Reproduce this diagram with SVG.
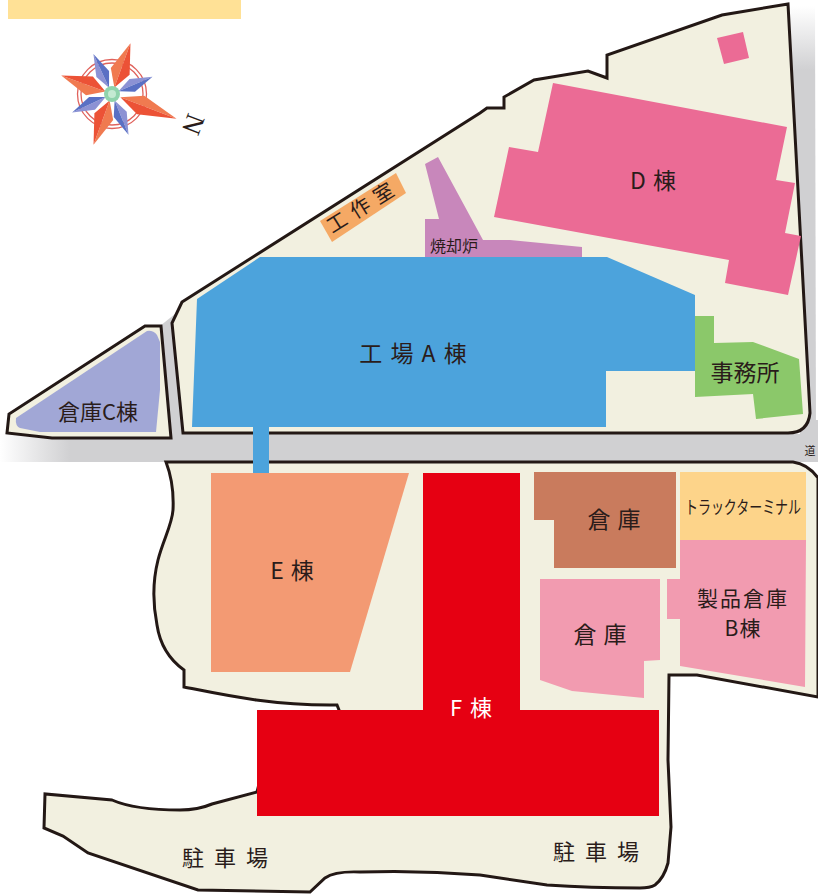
<svg xmlns="http://www.w3.org/2000/svg" xmlns:xlink="http://www.w3.org/1999/xlink" width="818" height="894" viewBox="0 0 818 894">
<style>
text{font-family:"Noto Sans CJK JP","Noto Sans",sans-serif;fill:#2a1c1a;text-anchor:middle}
.site{fill:#f2f0e0;stroke:#231815;stroke-width:3;stroke-linejoin:miter}
.b{stroke:none}
</style>
<defs>
<linearGradient id="roadL" x1="0" x2="1" y1="0" y2="0"><stop offset="0" stop-color="#d0d0d2" stop-opacity="0"/><stop offset="1" stop-color="#d0d0d2"/></linearGradient>
<linearGradient id="roadR" x1="0" x2="0" y1="0" y2="1"><stop offset="0" stop-color="#d0d0d2" stop-opacity="0"/><stop offset="0.15" stop-color="#d0d0d2"/><stop offset="1" stop-color="#d0d0d2"/></linearGradient>
<g id="ray"><polygon points="7,0 24,-10 54,0" fill="#f07a50"/><polygon points="7,0 24,10 54,0" fill="#ec5236"/></g>
<g id="bray"><polygon points="7,0 22,-7 44,0" fill="#8c92d4"/><polygon points="7,0 22,7 44,0" fill="#5a70c4"/></g>
</defs>
<rect width="818" height="894" fill="#fff"/>
<rect x="8" y="0" width="233" height="19" fill="#ffe196"/>

<g id="road">
<rect x="0" y="434" width="70" height="28" fill="url(#roadL)"/>
<rect x="70" y="434" width="748" height="28" fill="#d0d0d2"/>
<polygon points="160,326 180,310 192,434 165,438" fill="#d0d0d2"/>
<polygon points="790,6 815,6 816,434 800,434" fill="url(#roadR)"/>
<rect x="806" y="420" width="12" height="14" fill="#d0d0d2"/>
<text x="810" y="455" font-size="11">道</text>
</g>

<g id="site-north">
<path class="site" d="M788,4 L722,15 L607,55 L607,78 L588,71 L534,80 L504,97 L504,108 L487,108 L480,113 L182,302 L172,323 L183,433 L788,433 Q808,433 810,413 Z"/>
</g>
<g id="site-south">
<path class="site" stroke-width="2.500" d="M166,462 L793,462 Q808,464 818,478 L818,697 L697,675 L669,675 L668,760 L671,827 L668,863 Q664,878 655,885 Q650,888 640,888 Q590,888 547,885 L480,875 Q420,870 360,872 Q335,871 325,878 L310,892 L198,890 L88,853 L63,836 L44,828 L45,794 L112,800 C128,807 150,810 180,810 C195,810 205,807 212,804 L257,792 L265,760 L265,720 L339,720 L339,710 L337,705 C270,706 215,693 184,687 L184,670 C170,660 160,645 157,625 C152,600 153,580 158,560 C163,540 172,525 173,510 C174,490 171,475 166,462 Z"/>
</g>

<g id="warehouse-c">
<polygon class="site" points="145,326 161,326 171,438 52,438 7,433 9,414"/>
<path class="b" fill="#a1a7d6" d="M147,331 Q153,330 157,335 L160,342 L160,390 L156,432 L40,432 L20,428 Q15,426 16,418 Z"/>
<text x="98" y="420" font-size="22">倉庫C棟</text>
</g>

<g id="compass">
<circle cx="112" cy="94" r="34.500" fill="none" stroke="#e0625c" stroke-width="1.300"/>
<circle cx="112" cy="94" r="31" fill="none" stroke="#e0625c" stroke-width="1.300"/>
<use xlink:href="#bray" href="#bray" transform="translate(112,94) rotate(-23)"/>
<use xlink:href="#bray" href="#bray" transform="translate(112,94) rotate(68)"/>
<use xlink:href="#bray" href="#bray" transform="translate(112,94) rotate(155)"/>
<use xlink:href="#bray" href="#bray" transform="translate(112,94) rotate(245)"/>
<use xlink:href="#ray" href="#ray" transform="translate(112,94) rotate(21) scale(1.28,1)"/>
<use xlink:href="#ray" href="#ray" transform="translate(112,94) rotate(110)"/>
<use xlink:href="#ray" href="#ray" transform="translate(112,94) rotate(200)"/>
<use xlink:href="#ray" href="#ray" transform="translate(112,94) rotate(-70)"/>
<circle cx="112" cy="94" r="8" fill="#8fd3ac"/>
<circle cx="112" cy="94" r="4" fill="#c4ead2"/>
<text transform="translate(185,121) rotate(111)" font-size="27" style="font-family:'Liberation Serif',serif">N</text>
</g>

<g id="workshop">
<polygon class="b" fill="#f5a965" points="320,221 396,173 406,193 332,242"/>
<text transform="translate(364,214) rotate(-32)" font-size="20" word-spacing="3">工 作 室</text>
</g>
<g id="incinerator">
<polygon class="b" fill="#c887bb" points="425,164 438,157 483,240 510,240 582,247 582,257 425,257 425,219 439,219"/>
<text x="454" y="252" font-size="16">焼却炉</text>
</g>
<g id="building-d">
<polygon class="b" fill="#eb6b95" points="553,83 787,127 776,180 795,183 785,233 801,236 788,295 725,283 729,260 494,217 509,147 538,152"/>
<polygon class="b" fill="#eb6b95" points="717,38 743,32 749,58 724,64"/>
<text x="653" y="189" font-size="23" word-spacing="2">D 棟</text>
</g>
<g id="building-a">
<polygon class="b" fill="#4ca3dc" points="260,257 607,257 695,295 695,371 606,371 606,427 192,427 197,299"/>
<text x="413" y="362" font-size="23" word-spacing="3">工 場 A 棟</text>
</g>
<g id="office">
<polygon class="b" fill="#8bc86a" points="695,316 714,316 714,343 753,342 799,359 803,414 756,419 753,394 695,397"/>
<text x="745" y="381" font-size="23">事務所</text>
</g>
<g id="connectors">
<rect x="253" y="427" width="16" height="46" fill="#4ca3dc"/>
</g>
<g id="building-e">
<polygon class="b" fill="#f39a73" points="211,473 409,473 350,672 211,672"/>
<text x="292" y="579" font-size="23" word-spacing="2">E 棟</text>
</g>
<g id="building-f">
<polygon class="b" fill="#e60012" points="423,473 520,473 520,710 659,710 659,816 257,816 257,710 423,710"/>
<text x="471" y="716" font-size="22" word-spacing="3" style="fill:#fff">F 棟</text>
</g>
<g id="warehouse-brown">
<polygon class="b" fill="#c97b5d" points="534,472 676,472 676,568 554,568 554,520 534,520"/>
<text x="614" y="528" font-size="23" word-spacing="2">倉 庫</text>
</g>
<g id="truck-terminal">
<rect x="680" y="472" width="126" height="68" fill="#fdd48a"/>
<text transform="translate(743,514) scale(.72,1)" font-size="18">トラックターミナル</text>
</g>
<g id="warehouse-b">
<polygon class="b" fill="#f29bb0" points="680,540 806,540 805,687 680,666 680,619 667,619 667,579 680,579"/>
<text x="743" y="606" font-size="21" letter-spacing="2">製品倉庫</text>
<text x="743" y="636" font-size="21" letter-spacing="1">B棟</text>
</g>
<g id="warehouse-pink">
<polygon class="b" fill="#f29bb0" points="540,579 660,579 660,660 644,661 644,698 572,691 540,680"/>
<text x="600" y="643" font-size="23" word-spacing="2">倉 庫</text>
</g>
<g id="parking">
<text x="225" y="866" font-size="22" word-spacing="5">駐 車 場</text>
<text x="596" y="860" font-size="22" word-spacing="5">駐 車 場</text>
</g>
</svg>
